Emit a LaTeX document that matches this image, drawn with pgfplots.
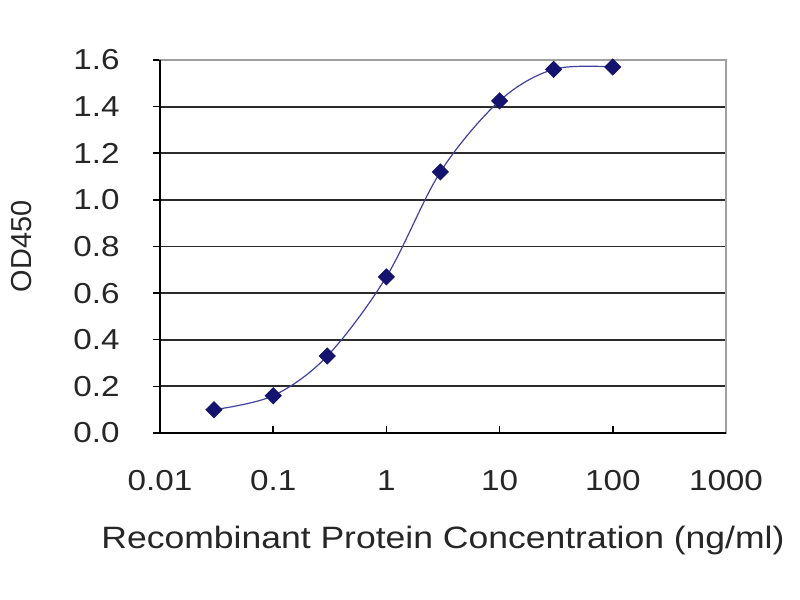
\documentclass[border=0pt]{standalone}
\usepackage{pgfplots}
\pgfplotsset{compat=1.18}
\usepackage{fontspec}
\setmainfont{Liberation Sans}
\newfontfamily\wide[FakeStretch=1.15]{Liberation Sans}
\definecolor{txt}{HTML}{262626}
\definecolor{gridc}{HTML}{2A2A2A}
\definecolor{bord}{HTML}{A0A0A0}
\definecolor{mk}{HTML}{14146E}
\definecolor{ln}{HTML}{4040A0}
\begin{document}
\begin{tikzpicture}
\useasboundingbox (0,0) rectangle (800bp,600bp);
\begin{axis}[
  at={(160bp,167bp)}, anchor=south west,
  scale only axis, width=566bp, height=373bp,
  xmode=log, xmin=0.01, xmax=1000,
  ymin=0, ymax=1.6,
  xtick={0.01,0.1,1,10,100,1000},
  xticklabels={0.01,0.1,1,10,100,1000},
  xminorticks=false,
  ytick={0,0.2,...,1.6},
  /pgf/number format/assume math mode=true,
  y tick label style={/pgf/number format/fixed, /pgf/number format/fixed zerofill, /pgf/number format/precision=1},
  ymajorgrids, grid style={gridc, line width=1.8bp},
  axis line style={bord, line width=1.5bp},
  tick pos=left,
  xtick align=inside, ytick align=outside,
  major tick length=7bp,
  tick style={black, line width=1.5bp},
  x tick label style={font=\wide\fontsize{29}{34}\selectfont, text=txt, yshift=-34bp},
  y tick label style={font=\wide\fontsize{29}{34}\selectfont, text=txt, xshift=-30bp},
  xlabel={Recombinant Protein Concentration (ng/ml)},
  ylabel={OD450},
  xlabel style={font=\wide\fontsize{31}{36}\selectfont, text=txt, at={(axis description cs:0.5,0)}, anchor=north, yshift=-90bp},
  ylabel style={font=\fontsize{29}{34}\selectfont, text=txt, at={(axis description cs:-0.244,0.5)}, anchor=center},
  clip=false,
]
\draw[bord, line width=1.5bp] (rel axis cs:0,1) -- (rel axis cs:1,1) -- (rel axis cs:1,0);
\draw[black, line width=1.5bp] (rel axis cs:0,1) -- (rel axis cs:0,0) -- (rel axis cs:1,0);
\addplot[ln, line width=1.2bp, smooth, tension=0.55, mark=square*, mark size=5.5bp,
  mark options={rotate=45, fill=mk, draw=mk, solid}]
  coordinates {
  (0.03,0.10) (0.1,0.16) (0.3,0.33) (1,0.67) (3,1.12) (10,1.425) (30,1.56) (100,1.57)
  };
\end{axis}
\end{tikzpicture}
\end{document}
